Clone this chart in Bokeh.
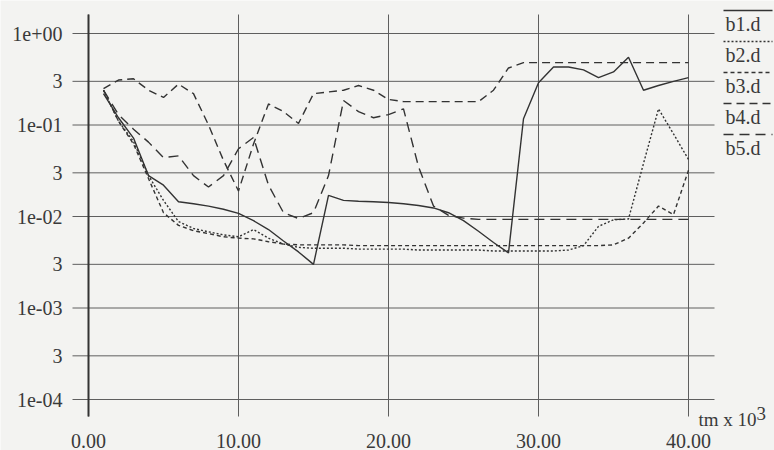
from bokeh.plotting import figure
from bokeh.models import Range1d, LinearScale
from bokeh.embed import file_html
from bokeh.resources import INLINE
from bokeh.core.properties import value

W, H = 774, 450

# time axis, in units of 10^3
tm = list(range(1, 41))

b1 = [0.22, 0.12, 0.072, 0.028, 0.022, 0.0145, 0.0138, 0.0130, 0.0120, 0.0108,
      0.0090, 0.0072, 0.0054, 0.0041, 0.0030, 0.0170, 0.0150, 0.0147, 0.0145, 0.0142,
      0.0138, 0.0132, 0.0124, 0.0110, 0.0090, 0.0069, 0.0052, 0.0040, 0.117, 0.29,
      0.43, 0.43, 0.40, 0.33, 0.38, 0.55, 0.24, 0.27, 0.30, 0.33]

b2 = [0.24, 0.11, 0.066, 0.028, 0.015, 0.0088, 0.0074, 0.0068, 0.0063, 0.0060,
      0.0072, 0.0058, 0.0050, 0.0046, 0.0045, 0.0045, 0.0045, 0.0044, 0.0044, 0.0044,
      0.0044, 0.0043, 0.0043, 0.0043, 0.0043, 0.0043, 0.0042, 0.0042, 0.0042, 0.0042,
      0.0042, 0.0043, 0.0048, 0.0078, 0.0092, 0.0094, 0.038, 0.15, 0.08, 0.042]

b3 = [0.24, 0.11, 0.062, 0.026, 0.011, 0.0080, 0.0070, 0.0065, 0.0060, 0.0058,
      0.0057, 0.0053, 0.0050, 0.0049, 0.0049, 0.0049, 0.0049, 0.0048, 0.0048, 0.0048,
      0.0048, 0.0048, 0.0048, 0.0048, 0.0048, 0.0048, 0.0048, 0.0048, 0.0048, 0.0048,
      0.0048, 0.0048, 0.0048, 0.0048, 0.0049, 0.0058, 0.0085, 0.0130, 0.0105, 0.032]

b4 = [0.25, 0.31, 0.32, 0.24, 0.20, 0.28, 0.22, 0.10, 0.041, 0.019,
      0.062, 0.17, 0.14, 0.104, 0.22, 0.23, 0.24, 0.27, 0.24, 0.19,
      0.18, 0.18, 0.18, 0.18, 0.18, 0.18, 0.24, 0.42, 0.48, 0.48,
      0.48, 0.48, 0.48, 0.48, 0.48, 0.48, 0.48, 0.48, 0.48, 0.48]

b5 = [0.24, 0.13, 0.09, 0.065, 0.044, 0.046, 0.028, 0.021, 0.028, 0.055,
      0.073, 0.022, 0.011, 0.0095, 0.011, 0.028, 0.185, 0.14, 0.12, 0.13,
      0.15, 0.035, 0.013, 0.0103, 0.0096, 0.0093, 0.0093, 0.0093, 0.0093, 0.0093,
      0.0093, 0.0093, 0.0093, 0.0093, 0.0093, 0.0093, 0.0093, 0.0093, 0.0093, 0.0093]

series_names = ["b1.d", "b2.d", "b3.d", "b4.d", "b5.d"]

y_ticks = [1e-4, 3e-4, 1e-3, 3e-3, 1e-2, 3e-2, 1e-1, 3e-1, 1.0]
y_tick_labels = ["1e-04", "3", "1e-03", "3", "1e-02", "3", "1e-01", "3", "1e+00"]
x_ticks = [0, 10, 20, 30, 40]
x_tick_labels = ["0.00", "10.00", "20.00", "30.00", "40.00"]

# ---- page geometry (pixels) ----
X0_PX = 88            # where tm = 0 sits
PX_PER_UNIT = 15      # pixels per 10^3 of tm
Y_ONE_PX = 33         # where 1e+00 sits
PX_PER_DECADE = 91.5
GRID_LEFT, GRID_RIGHT = 72, 714
GRID_TOP, GRID_BOTTOM = 14, 416

BG = "#f3f3f1"
INK = "#333333"
GRID = "#5e5e5e"
TEXT = "#3a3a3a"
FONT = value("Liberation Serif")

styles = [
    dict(line_dash="solid"),
    dict(line_dash="2 2"),
    dict(line_dash="4 3"),
    dict(line_dash="8 5"),
    dict(line_dash="10 6"),
]

p = figure(
    width=W, height=H,
    x_range=Range1d(-X0_PX / PX_PER_UNIT, (W - X0_PX) / PX_PER_UNIT),
    y_range=Range1d(10 ** (-(H - Y_ONE_PX) / PX_PER_DECADE), 10 ** (Y_ONE_PX / PX_PER_DECADE)),
    y_axis_type="log",
    x_axis_location=None, y_axis_location=None,
    toolbar_location=None, output_backend="svg",
    min_border=0, outline_line_color=None,
    background_fill_color=BG, border_fill_color=BG,
)
p.grid.visible = False

# pixel-space ranges for decorations around the data area
p.extra_x_ranges = {"px": Range1d(0, W)}
p.extra_y_ranges = {"px": Range1d(H, 0)}
p.extra_x_scales = {"px": LinearScale()}
p.extra_y_scales = {"px": LinearScale()}

# horizontal grid lines at the y ticks
n_y = len(y_ticks)
p.segment(x0=[GRID_LEFT] * n_y, x1=[GRID_RIGHT] * n_y, y0=y_ticks, y1=y_ticks,
          x_range_name="px", line_color=GRID, line_width=1)

# vertical grid lines at the x ticks
n_x = len(x_ticks)
p.segment(x0=x_ticks, x1=x_ticks, y0=[GRID_TOP] * n_x, y1=[GRID_BOTTOM] * n_x,
          y_range_name="px", line_color=GRID, line_width=1)
# the y axis itself, heavier
p.segment(x0=[x_ticks[0]], x1=[x_ticks[0]], y0=[GRID_TOP], y1=[GRID_BOTTOM],
          y_range_name="px", line_color=INK, line_width=2)

# tick labels
p.text(x=[62] * n_y, y=y_ticks, text=y_tick_labels, x_range_name="px",
       text_align="right", text_baseline="middle",
       text_font=FONT, text_font_size="20px", text_color=TEXT)
p.text(x=x_ticks, y=[440] * n_x, text=x_tick_labels, y_range_name="px",
       text_align="center", text_baseline="middle",
       text_font=FONT, text_font_size="20px", text_color=TEXT)

# axis unit: tm x 10^3
p.text(x=[698], y=[419], text=["tm x 10"], x_range_name="px", y_range_name="px",
       text_align="left", text_baseline="middle",
       text_font=FONT, text_font_size="19px", text_color=TEXT)
p.text(x=[756], y=[413], text=["3"], x_range_name="px", y_range_name="px",
       text_align="left", text_baseline="middle",
       text_font=FONT, text_font_size="19px", text_color=TEXT)

# data series
for ys, st in zip([b1, b2, b3, b4, b5], styles):
    p.line(tm, ys, line_color=INK, line_width=1.4, **st)

# legend: overlined labels on the right
for i, (name, st) in enumerate(zip(series_names, styles)):
    ly = 10 + 31 * i
    ty = 23 + 31 * i
    p.segment(x0=[723], x1=[772], y0=[ly], y1=[ly], x_range_name="px", y_range_name="px",
              line_color=INK, line_width=1.4, **st)
    p.text(x=[725], y=[ty], text=[name], x_range_name="px", y_range_name="px",
           text_align="left", text_baseline="middle",
           text_font=FONT, text_font_size="20px", text_color=TEXT)

open("out.html", "w").write(file_html(p, INLINE))
